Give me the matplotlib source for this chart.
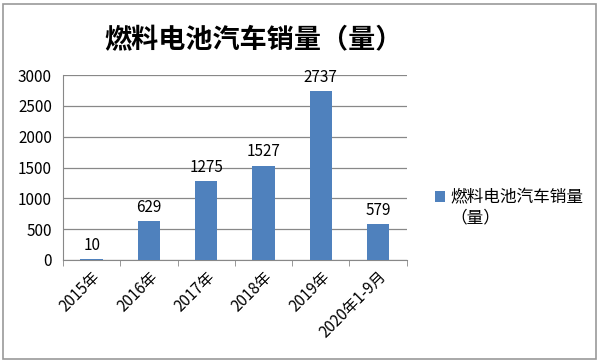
import matplotlib.pyplot as plt
from matplotlib.patches import Rectangle

plt.rcParams['font.family'] = ['Noto Sans CJK SC', 'DejaVu Sans']

# 数据
years = ['2015年', '2016年', '2017年', '2018年', '2019年', '2020年1-9月']
sales = [10, 629, 1275, 1527, 2737, 579]
series_name = ['燃料电池汽车销量', '（量）']
title = '燃料电池汽车销量（量）'

fig = plt.figure(figsize=(6, 3.63), dpi=100)
ax = fig.add_axes([0.105, 0.284, 0.573, 0.509])

bars = ax.bar(range(len(years)), sales, width=0.39, color='#4F81BD',
              label=series_name[0], zorder=3)

for i, v in enumerate(sales):
    ax.text(i, v + 90, str(v), ha='center', va='bottom', fontsize=11)

ax.set_xlim(-0.5, len(years) - 0.5)
ax.set_ylim(0, 3000)
ax.set_yticks(range(0, 3001, 500))
ax.tick_params(axis='y', length=0, labelsize=11, pad=8)
ax.set_xticks([i - 0.5 for i in range(len(years) + 1)], minor=True)
ax.set_xticks(range(len(years)))
ax.set_xticklabels(years, rotation=45, ha='right', rotation_mode='anchor', fontsize=11)
ax.tick_params(axis='x', which='major', length=0, pad=6)
ax.tick_params(axis='x', which='minor', length=4, color='#888888')
ax.grid(axis='y', color='#888888', linewidth=0.9, zorder=0)

for s in ['top', 'right']:
    ax.spines[s].set_visible(False)
ax.spines['left'].set_color('#888888')
ax.spines['bottom'].set_color('#888888')

fig.text(0.423, 0.89, title, ha='center', va='center', fontsize=19.5, fontweight='bold')

# 图例：方块对齐第一行，第二行单独写
fig.legend(loc='center left', bbox_to_anchor=(0.7, 0.455), frameon=False,
           fontsize=12, handlelength=0.6, handleheight=0.6, handletextpad=0.3)
fig.text(0.75, 0.4, series_name[1], ha='left', va='center', fontsize=12)

fig.patches.append(Rectangle((0.005, 0.012), 0.988, 0.978, transform=fig.transFigure,
                             fill=False, edgecolor='#999999', linewidth=1.2))

plt.savefig('out.png', dpi=100)
